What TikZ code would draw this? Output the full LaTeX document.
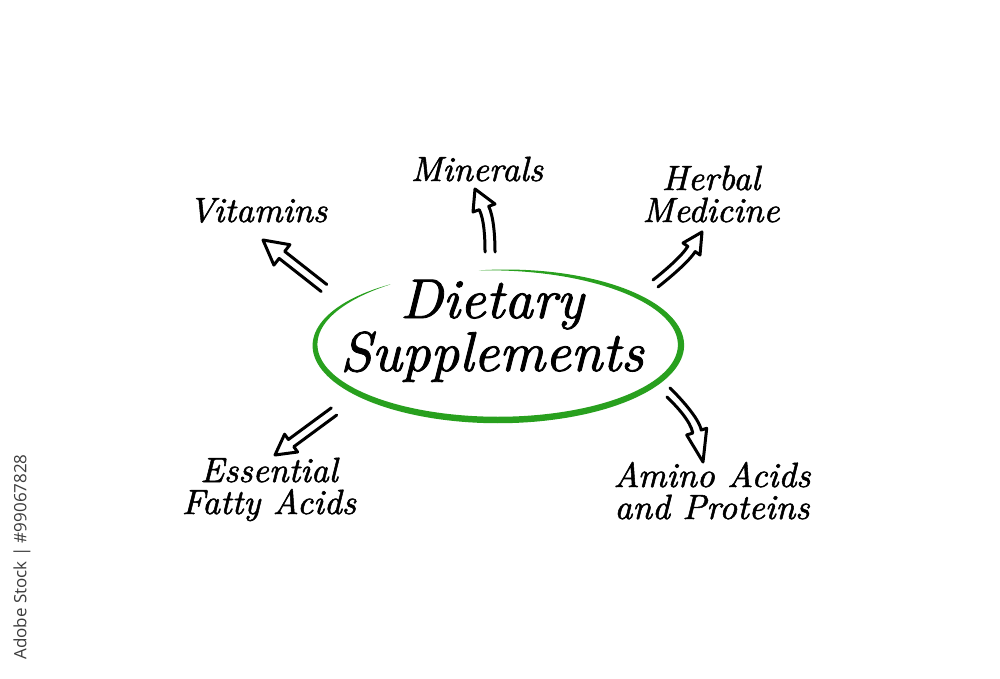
\documentclass[tikz,border=0pt]{standalone}
\usepackage{fontspec}
\newfontfamily\wmfont{Open Sans}
\newfontfamily\handfont{lmroman10-italic.otf}[FakeBold=1.5]
\definecolor{ringgreen}{RGB}{40,160,30}
\definecolor{wmgray}{RGB}{60,60,60}
\begin{document}
\begin{tikzpicture}[x=0.5pt,y=-0.5pt,
  lbl/.style={font=\handfont\fontsize{17.5}{16}\selectfont, align=center, anchor=base, inner sep=0pt},
  titletext/.style={font=\handfont\fontsize{28}{22}\selectfont, align=center, anchor=base, inner sep=0pt},
  harrow/.style={line width=1.5pt, line join=round, line cap=round},
  declare function={rs(\a)=sin((\a-125)/332*180); rw(\a)=6.5*rs(\a)*(2-rs(\a));}]
\useasboundingbox[fill=white] (0,0) rectangle (1000,679);

% green hand-drawn ring
\fill[ringgreen] plot[domain=126:456, samples=150, variable=\t]
  ({498+(183+rw(\t)/2)*cos(\t)},{345-(75+rw(\t)/2)*sin(\t)})
  -- plot[domain=456:126, samples=150, variable=\t]
  ({498+(183-rw(\t)/2)*cos(\t)},{345-(75-rw(\t)/2)*sin(\t)}) -- cycle;

% centre text (anchor base = last line)
\node[titletext] (diet) at (492,371) {Dietary\\Supplements};

% labels (anchor base = last line)
\node[lbl] (vit) at (258,222) {Vitamins};
\node[lbl] (min) at (477,181) {Minerals};
\node[lbl] (herb) at (711,222) {Herbal\\Medicine};
\node[lbl] (ess) at (269,514) {Essential\\Fatty Acids};
\node[lbl] (amino) at (712,519) {Amino Acids\\and Proteins};

% hollow arrows
\draw[harrow] (321.2,291.5) -- (279.1,258.4) -- (273.9,265.1) -- (263,240)
  -- (289.9,244.7) -- (284.7,251.4) -- (326.8,284.5);
\draw[harrow] (485,252) .. controls (485,236) and (484,219.6) .. (479.3,209.7)
  -- (473,212) -- (475,189) -- (495,204) -- (488.7,206.3)
  .. controls (493.4,216.2) and (495,235) .. (495,252);
\draw[harrow] (653,280) .. controls (664,271.3) and (681.4,256.6) .. (687.8,246.4)
  -- (683,243) -- (702,232) -- (700,255) -- (695.2,251.6)
  .. controls (688.8,261.8) and (669,278.3) .. (658,287);
\draw[harrow] (336.7,415.1) -- (293.8,446.7) -- (297.6,452) -- (275,455)
  -- (284.6,434.2) -- (288.4,439.5) -- (331.3,407.9);
\draw[harrow] (667,397) .. controls (677,406.7) and (690.5,421.2) .. (692.8,433)
  -- (686.7,435) -- (703,462) -- (706.7,428.3) -- (701.2,430)
  .. controls (698.9,418.2) and (680,397.7) .. (670,388);

% watermark caption
\node[rotate=90, font=\wmfont\fontsize{8.5}{10}\selectfont, text=wmgray, inner sep=0pt] (wm) at (22,557) {Adobe Stock | \#99067828};
\end{tikzpicture}
\end{document}
